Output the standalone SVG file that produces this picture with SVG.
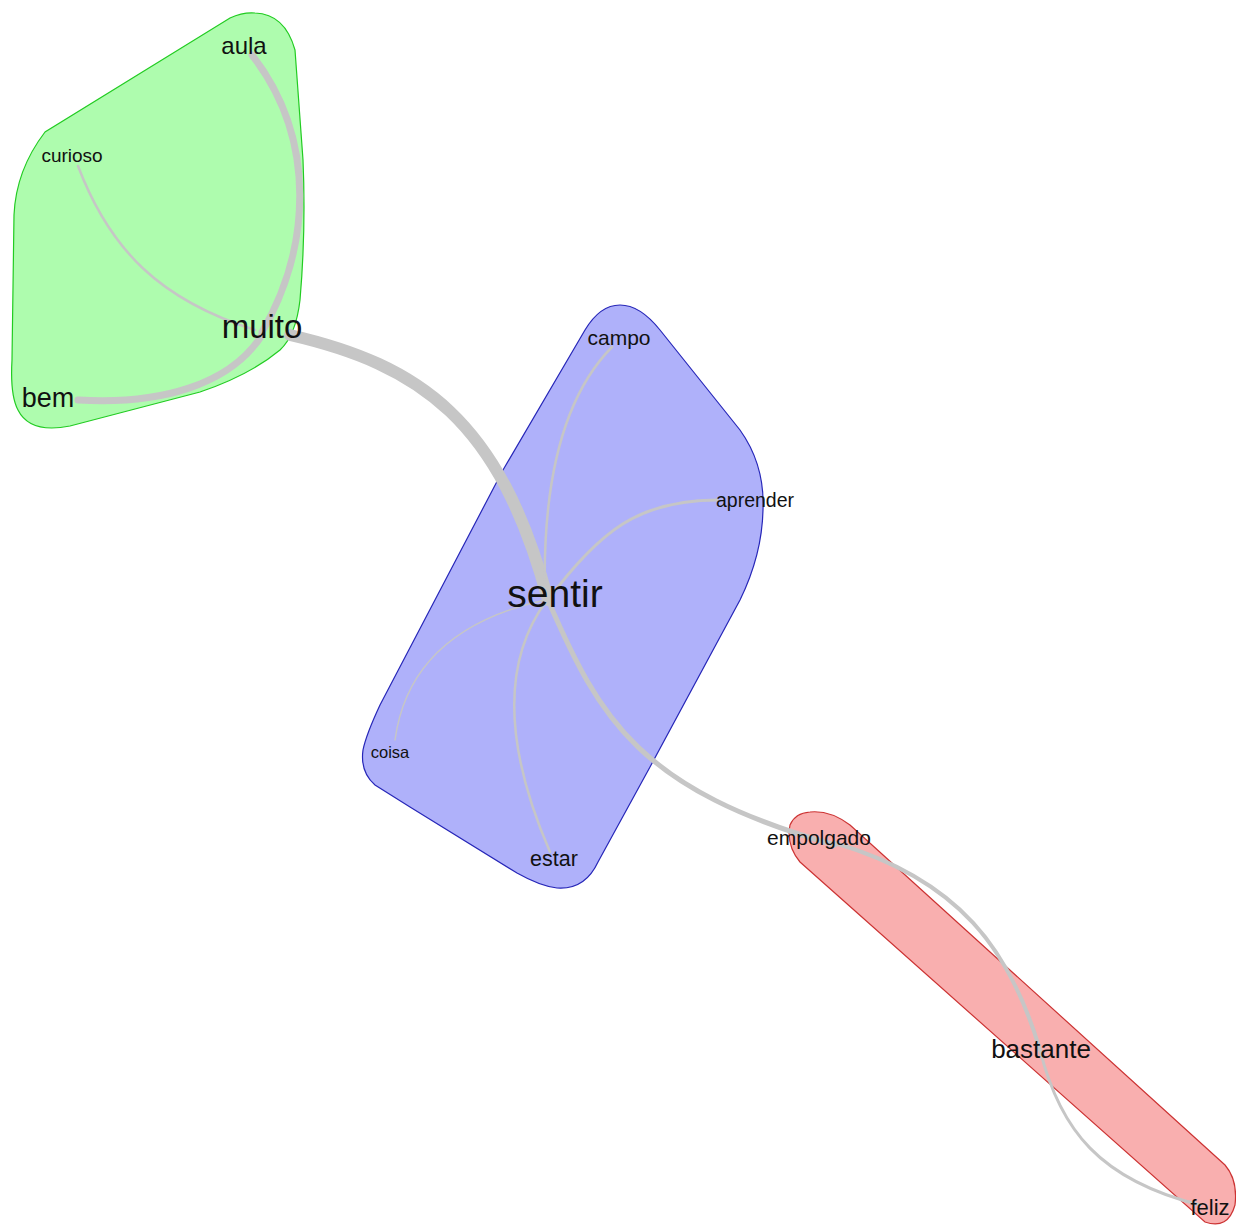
<svg xmlns="http://www.w3.org/2000/svg" width="1236" height="1230" viewBox="0 0 1236 1230">
<style>
.hull{stroke-width:1.2}
.g{fill:#aefcae;stroke:#22cc22}
.b{fill:#afb1fa;stroke:#2626b8}
.r{fill:#f9afaf;stroke:#cc3333}
.e{fill:none;stroke:#c6c6c6;stroke-linecap:round}
.t{font-family:"Liberation Sans",Arial,sans-serif;fill:#111;text-anchor:middle}
</style>
<rect width="1236" height="1230" fill="#ffffff"/>
<g id="groups">
<g id="group-green"><path class="hull g" d="M 255,13 Q 285,14 295,50 L 303,160 Q 306,230 300,300 Q 296,335 280,350 Q 250,375 200,392 L 70,426 Q 30,434 18,410 Q 10,395 12,360 L 14,215 Q 16,170 45,132 L 230,18 Q 243,12 255,13 Z"/></g>
<g id="group-blue"><path class="hull b" d="M 620,305 Q 640,305 660,330 L 740,430 Q 765,465 763,510 Q 762,555 740,600 L 650,767 L 598,862 Q 585,890 557,888 Q 540,886 517,873 L 410,807 L 375,785 Q 360,772 363,750 Q 366,735 380,705 L 503,470 L 585,330 Q 600,305 620,305 Z"/></g>
<g id="group-red"><path class="hull r" d="M 810,812 Q 830,810 850,825 L 1225,1165 Q 1238,1180 1235,1205 Q 1228,1230 1205,1222 L 800,862 Q 786,845 790,825 Q 795,813 810,812 Z"/></g>
</g>
<g id="connectors">
<path class="e" stroke-width="12" d="M 290,335 C 420,365 500,420 548,600"/>
<path class="e" stroke-width="7" d="M 252,55 C 318,140 310,250 262,332"/>
<path class="e" stroke-width="7" d="M 78,400 C 160,405 230,385 262,335"/>
<path class="e" stroke-width="2.5" d="M 78,166 C 110,250 160,300 255,330"/>
<path class="e" stroke-width="2.5" d="M 612,347 Q 540,420 545,600"/>
<path class="e" stroke-width="3" d="M 717,500 C 640,500 600,530 548,600"/>
<path class="e" stroke-width="1.5" d="M 395,740 Q 410,630 545,600"/>
<path class="e" stroke-width="2.5" d="M 550,852 Q 480,690 547,600"/>
<path class="e" stroke-width="5" d="M 548,600 C 600,720 640,790 835,845"/>
<path class="e" stroke-width="4" d="M 835,843 C 960,880 1010,950 1040,1050"/>
<path class="e" stroke-width="3" d="M 1040,1050 C 1060,1130 1100,1180 1200,1205"/>
</g>
<g id="node-aula"><text class="t" x="244" y="54" font-size="24">aula</text></g>
<g id="node-curioso"><text class="t" x="72" y="162" font-size="19">curioso</text></g>
<g id="node-muito"><text class="t" x="262" y="338" font-size="33">muito</text></g>
<g id="node-bem"><text class="t" x="48" y="407" font-size="27">bem</text></g>
<g id="node-sentir"><text class="t" x="555" y="607" font-size="39">sentir</text></g>
<g id="node-campo"><text class="t" x="619" y="345" font-size="21">campo</text></g>
<g id="node-aprender"><text class="t" x="755" y="507" font-size="19.5">aprender</text></g>
<g id="node-coisa"><text class="t" x="390" y="758" font-size="16.5">coisa</text></g>
<g id="node-estar"><text class="t" x="554" y="866" font-size="21.5">estar</text></g>
<g id="node-empolgado"><text class="t" x="819" y="845" font-size="21">empolgado</text></g>
<g id="node-bastante"><text class="t" x="1041" y="1058" font-size="26">bastante</text></g>
<g id="node-feliz"><text class="t" x="1210" y="1215" font-size="22">feliz</text></g>
</svg>
